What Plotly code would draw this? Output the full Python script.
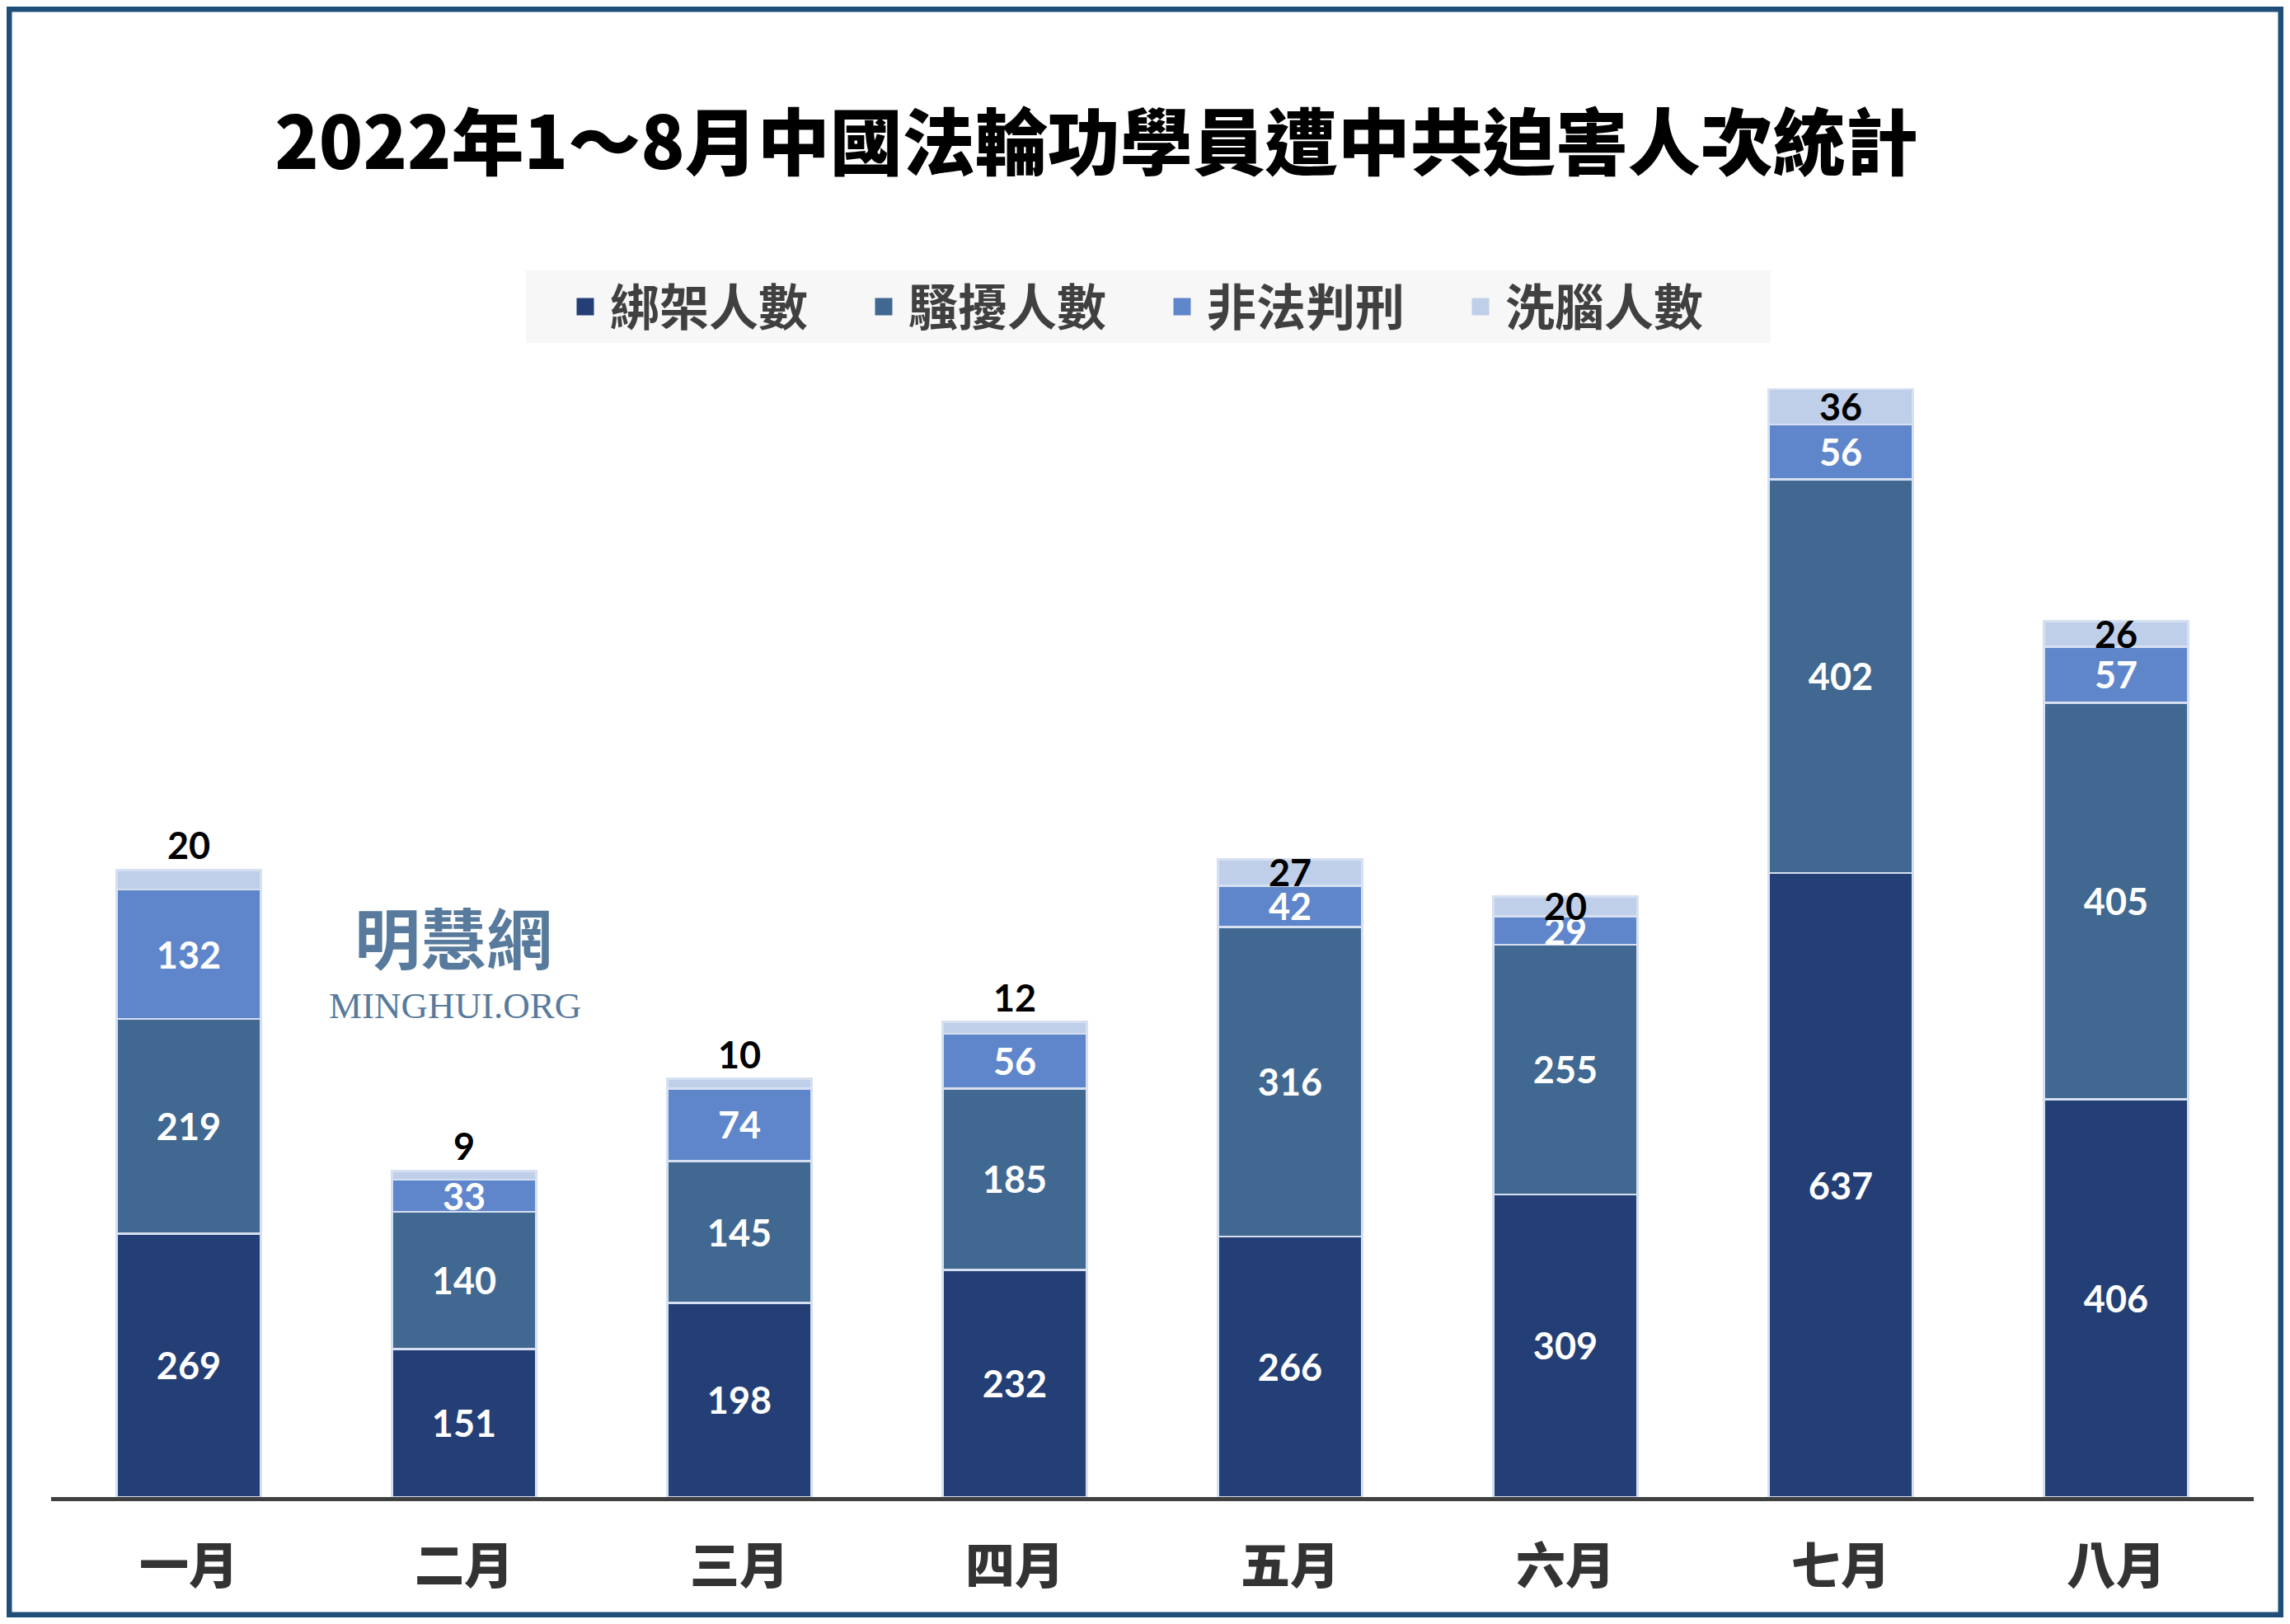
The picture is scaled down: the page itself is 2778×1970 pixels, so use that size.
# Stacked monthly bar chart, Jan-Aug 2022 persecution counts
import plotly.graph_objects as go

months = ["一月", "二月", "三月", "四月", "五月", "六月", "七月", "八月"]
abducted = [269, 151, 198, 232, 266, 309, 637, 406]
harassed = [219, 140, 145, 185, 316, 255, 402, 405]
sentenced = [132, 33, 74, 56, 42, 29, 56, 57]
brainwashed = [20, 9, 10, 12, 27, 20, 36, 26]

series_names = ["綁架人數", "騷擾人數", "非法判刑", "洗腦人數"]
colors = ["#243F76", "#416891", "#5F86CB", "#BFCFEA"]

# page body has an 8px margin, so the figure is a bit smaller than the window
W, H = 2762, 1954
ml, mr, mt, mb = 54, 36, 382, 146

num_font = "Lato, 'Open Sans', sans-serif"
cjk_font = "'Noto Sans CJK TC', 'Noto Sans CJK SC', sans-serif"
seg_line = dict(color="#D6E0F0", width=2.5)

fig = go.Figure()
for name, vals, col in zip(series_names[:3], [abducted, harassed, sentenced], colors[:3]):
    fig.add_trace(go.Bar(
        x=months, y=vals, name=name, marker_color=col, marker_line=seg_line,
        text=vals, textposition="inside", insidetextanchor="middle", textangle=0,
        textfont=dict(family=num_font, size=45, color="white", weight="bold"),
        constraintext="none", showlegend=False, legendgroup=name,
    ))

# top segment: small ones get the label just above the bar
top_pos = ["outside" if v < 20 or i == 0 else "inside" for i, v in enumerate(brainwashed)]
fig.add_trace(go.Bar(
    x=months, y=brainwashed, name=series_names[3], marker_color=colors[3],
    marker_line=seg_line,
    text=brainwashed, textposition=top_pos, insidetextanchor="middle", textangle=0,
    textfont=dict(family=num_font, size=45, color="black", weight="bold"),
    cliponaxis=False, constraintext="none", showlegend=False, legendgroup=series_names[3],
))

# legend swatches (bigger squares than the default bar icon)
for name, col in zip(series_names, colors):
    fig.add_trace(go.Scatter(
        x=[None], y=[None], mode="markers", name=name, legendgroup=name,
        marker=dict(symbol="square", size=16, color=col, line=dict(color=col, width=5)),
    ))

fig.update_layout(
    width=W, height=H,
    margin=dict(l=ml, r=mr, t=mt, b=mb, autoexpand=False),
    barmode="stack", bargap=0.475,
    plot_bgcolor="white", paper_bgcolor="white",
    title=dict(text="2022年1～8月中國法輪功學員遭中共迫害人次統計",
               x=1322 / W, xref="container", xanchor="center",
               y=1 - 166 / H, yref="container", yanchor="middle",
               font=dict(family=cjk_font, size=88, color="black", weight=900)),
    legend=dict(orientation="h", x=672 / W, xref="container", xanchor="left",
                y=1 - 364 / H, yref="container", yanchor="middle",
                bgcolor="rgba(0,0,0,0)", traceorder="normal",
                itemwidth=50, entrywidth=297, entrywidthmode="pixels",
                font=dict(family=cjk_font, size=60, color="#404040", weight="bold")),
    xaxis=dict(showgrid=False, showline=True, linecolor="#404040", linewidth=5,
               ticks="", tickfont=dict(family=cjk_font, size=60, color="#333333", weight=900),
               ticklabelstandoff=28),
    yaxis=dict(range=[0, 1200], visible=False, showgrid=False),
    showlegend=True,
)

# legend background panel and outer frame (paper coords relative to plot area)
pw = W - ml - mr
ph = H - mt - mb
def px_x(v):
    return (v - ml) / pw
def px_y(v):
    return (H - mb - v) / ph

fig.add_shape(type="rect", xref="paper", yref="paper",
              x0=px_x(630), x1=px_x(2140), y0=px_y(408), y1=px_y(320),
              fillcolor="#F7F7F7", line=dict(width=0), layer="below")
fig.add_shape(type="rect", xref="paper", yref="paper",
              x0=px_x(3), x1=px_x(W - 3), y0=px_y(H - 3), y1=px_y(3),
              line=dict(color="#1F4E79", width=7), fillcolor="rgba(0,0,0,0)")

# watermark
fig.add_annotation(text="明慧網", xref="paper", yref="paper",
                   x=px_x(542), y=px_y(1126), xanchor="center", yanchor="middle",
                   showarrow=False,
                   font=dict(family=cjk_font, size=80, color="#587A9C", weight="bold"))
fig.add_annotation(text="MINGHUI.ORG", xref="paper", yref="paper",
                   x=px_x(544), y=px_y(1212), xanchor="center", yanchor="middle",
                   showarrow=False,
                   font=dict(family="'Liberation Serif', serif", size=45, color="#587A9C"))

fig.write_html("out.html")
